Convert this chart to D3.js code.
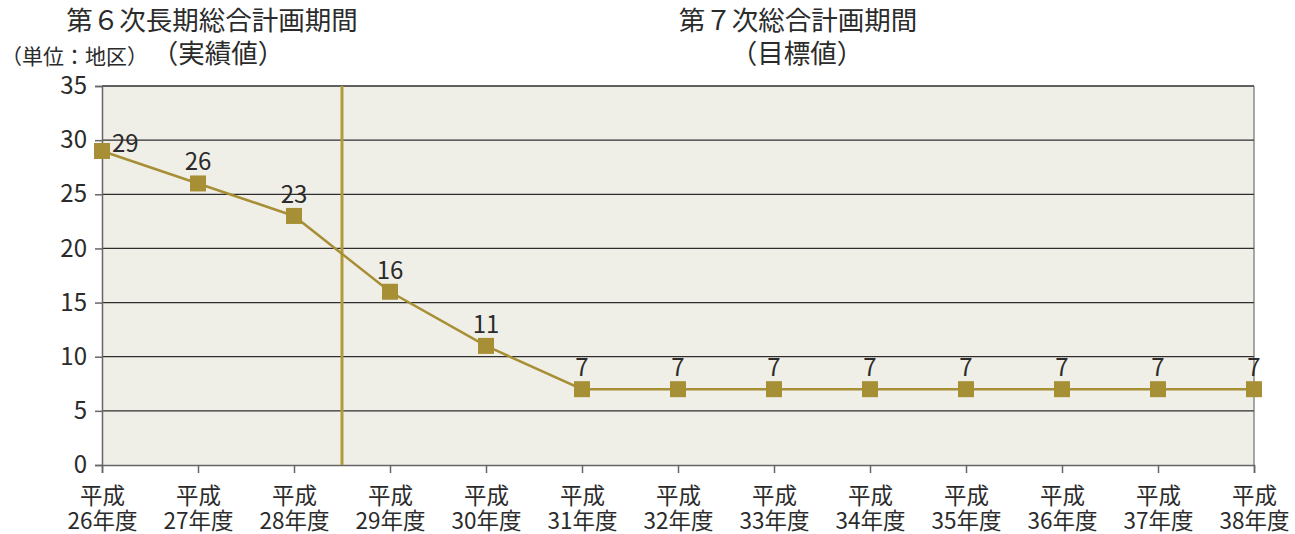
<!DOCTYPE html>
<html lang="ja">
<head>
<meta charset="UTF-8">
<title>地区数の推移</title>
<script src="https://cdn.jsdelivr.net/npm/d3@7"></script>
<style>
  body { margin: 0; background: #fff; }
  svg text { font-family: "Noto Sans CJK JP", "Noto Sans", sans-serif; fill: #2b2b2b; }
</style>
</head>
<body>
<svg id="chart" width="1295" height="534"></svg>
<script>
// 年度と値
const years = ["26", "27", "28", "29", "30", "31", "32", "33", "34", "35", "36", "37", "38"];
const values = [29, 26, 23, 16, 11, 7, 7, 7, 7, 7, 7, 7, 7];
const yTicks = [0, 5, 10, 15, 20, 25, 30, 35];

const svg = d3.select("#chart");
const m = { left: 102, right: 1254, top: 86, bottom: 465 };
const gold = "#a68f35";

const x = d3.scalePoint().domain(years).range([m.left, m.right]);
const y = d3.scaleLinear().domain([0, 35]).range([m.bottom, m.top]);

// 背景
svg.append("rect")
  .attr("x", m.left).attr("y", m.top)
  .attr("width", m.right - m.left).attr("height", m.bottom - m.top)
  .attr("fill", "#f0efe7");

// グリッド
svg.append("g").selectAll("line")
  .data(yTicks.filter(d => d > 0))
  .join("line")
  .attr("x1", m.left).attr("x2", m.right)
  .attr("y1", d => y(d)).attr("y2", d => y(d))
  .attr("stroke", "#2e2e2e").attr("stroke-width", 1.3);

// 右の枠
svg.append("line")
  .attr("x1", m.right).attr("x2", m.right)
  .attr("y1", m.top).attr("y2", m.bottom)
  .attr("stroke", "#555").attr("stroke-width", 1);

// Y軸
const yAxis = svg.append("g")
  .attr("transform", `translate(${m.left},0)`)
  .call(d3.axisLeft(y).tickValues(yTicks).tickSize(7).tickPadding(8));
yAxis.selectAll("text")
  .attr("font-size", 24)
  .attr("font-family", "'Noto Sans CJK JP', sans-serif")
  .attr("fill", "#2b2b2b");

// X軸
const xAxis = svg.append("g")
  .attr("transform", `translate(0,${m.bottom})`)
  .call(d3.axisBottom(x).tickSize(8).tickFormat(""));
xAxis.selectAll(".tick").append("text")
  .attr("text-anchor", "middle")
  .attr("font-size", 22.5)
  .attr("font-family", "'Noto Sans CJK JP', sans-serif")
  .attr("fill", "#2b2b2b")
  .each(function (d) {
    const t = d3.select(this);
    t.append("tspan").attr("x", 0).attr("y", 39).text("平成");
    t.append("tspan").attr("x", 0).attr("y", 64).text(d + "年度");
  });
svg.selectAll(".domain, .tick line").attr("stroke", "#666").attr("stroke-width", 1.5);

// 期間の区切り
const divX = (x("28") + x("29")) / 2;
svg.append("line")
  .attr("x1", divX).attr("x2", divX)
  .attr("y1", m.top).attr("y2", m.bottom)
  .attr("stroke", "#b09a3c").attr("stroke-width", 3);

// 折れ線
svg.append("path")
  .datum(values)
  .attr("fill", "none")
  .attr("stroke", gold)
  .attr("stroke-width", 2.5)
  .attr("d", d3.line().x((d, i) => x(years[i])).y(d => y(d)));

svg.append("g").selectAll("rect")
  .data(values)
  .join("rect")
  .attr("x", (d, i) => x(years[i]) - 8)
  .attr("y", d => y(d) - 8)
  .attr("width", 16).attr("height", 16)
  .attr("fill", gold);

// 値ラベル
svg.append("g").selectAll("text")
  .data(values)
  .join("text")
  .attr("font-size", 24)
  .attr("text-anchor", (d, i) => i === 0 ? "start" : "middle")
  .attr("x", (d, i) => i === 0 ? x(years[i]) + 10 : x(years[i]))
  .attr("y", (d, i) => i === 0 ? y(d) + 1 : y(d) - 13)
  .text(d => d);

// 見出し
const head = svg.append("g").attr("font-size", 26.5).attr("text-anchor", "middle");
head.append("text").attr("x", 212).attr("y", 30).text("第６次長期総合計画期間");
head.append("text").attr("x", 218).attr("y", 63).text("（実績値）");
head.append("text").attr("x", 798).attr("y", 30).text("第７次総合計画期間");
head.append("text").attr("x", 797).attr("y", 63).text("（目標値）");

svg.append("text")
  .attr("x", 1).attr("y", 64)
  .attr("font-size", 21)
  .text("（単位：地区）");
</script>
</body>
</html>
